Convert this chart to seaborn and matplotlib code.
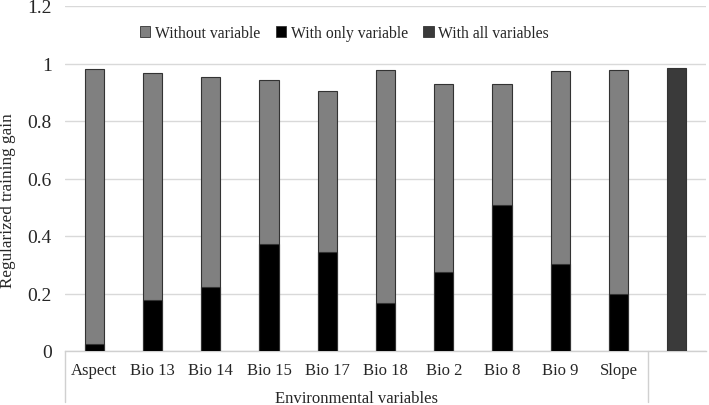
import pandas as pd
import matplotlib.pyplot as plt
import matplotlib.patches as mpatches
import matplotlib.transforms as mtransforms
import seaborn as sns

sns.set_style("white")
plt.rcParams['font.family'] = ['Liberation Serif', 'DejaVu Serif']

categories = ['Aspect', 'Bio 13', 'Bio 14', 'Bio 15', 'Bio 17', 'Bio 18',
              'Bio 2', 'Bio 8', 'Bio 9', 'Slope']
without_var = [0.981, 0.968, 0.953, 0.941, 0.905, 0.976, 0.929, 0.927, 0.973, 0.977]
only_var = [0.024, 0.178, 0.222, 0.373, 0.344, 0.168, 0.274, 0.509, 0.301, 0.198]
all_label = ' '
all_vars = [0.983]

order = categories + [all_label]
df = pd.concat([
    pd.DataFrame({'category': categories, 'series': 'Without variable', 'value': without_var}),
    pd.DataFrame({'category': categories, 'series': 'With only variable', 'value': only_var}),
    pd.DataFrame({'category': [all_label], 'series': 'With all variables', 'value': all_vars}),
], ignore_index=True)

colors = {'Without variable': '#808080', 'With only variable': '#000000',
          'With all variables': '#3a3a3a'}

fig = plt.figure(figsize=(7.09, 4.06), dpi=100)
ax = fig.add_axes([65/709, 1 - 352/406, 641/709, 345/406])

for s in ['Without variable', 'With only variable', 'With all variables']:
    sub = df[df['series'] == s]
    sns.barplot(data=sub, x='category', y='value', order=order, color=colors[s],
                width=0.33, edgecolor='#333333', linewidth=0.8, ax=ax, zorder=3)

ax.set_ylim(0, 1.2)
ax.set_xlim(-0.5, len(order) - 0.5)
ax.set_yticks([0, 0.2, 0.4, 0.6, 0.8, 1.0, 1.2])
ax.set_yticklabels(['0', '0.2', '0.4', '0.6', '0.8', '1', '1.2'], fontsize=14)
ax.yaxis.grid(True, color='#d9d9d9', linewidth=1, zorder=0)
ax.set_axisbelow(True)
ax.tick_params(axis='y', length=0, pad=9.5)
ax.tick_params(axis='x', length=0, pad=8, labelsize=12)
ax.set_xlabel('')
ax.set_ylabel('Regularized training gain', fontsize=12.3)
ax.yaxis.set_label_coords(-0.076, 0.44)
for sp in ['top', 'right', 'left']:
    ax.spines[sp].set_visible(False)
ax.spines['bottom'].set_color('#d0d0d0')
ax.spines['bottom'].set_linewidth(1)

# multi-level category axis lines
trans = mtransforms.blended_transform_factory(ax.transData, ax.transAxes)
for xv in [-0.5, len(categories) - 0.5]:
    ax.plot([xv, xv], [0, -0.148], transform=trans, color='#d0d0d0',
            linewidth=1, clip_on=False)
ax.text((len(categories) - 1) / 2, -0.135, 'Environmental variables', transform=trans,
        ha='center', va='center', fontsize=12)

handles = [mpatches.Patch(facecolor=colors[s], edgecolor='#333333', linewidth=0.6, label=s)
           for s in ['Without variable', 'With only variable', 'With all variables']]
ax.legend(handles=handles, loc='center', bbox_to_anchor=(0.436, 0.922), ncol=3,
          frameon=False, fontsize=11.3, handlelength=0.65, handleheight=0.65,
          handletextpad=0.3, columnspacing=1.0)

plt.savefig('out.png', dpi=100)
